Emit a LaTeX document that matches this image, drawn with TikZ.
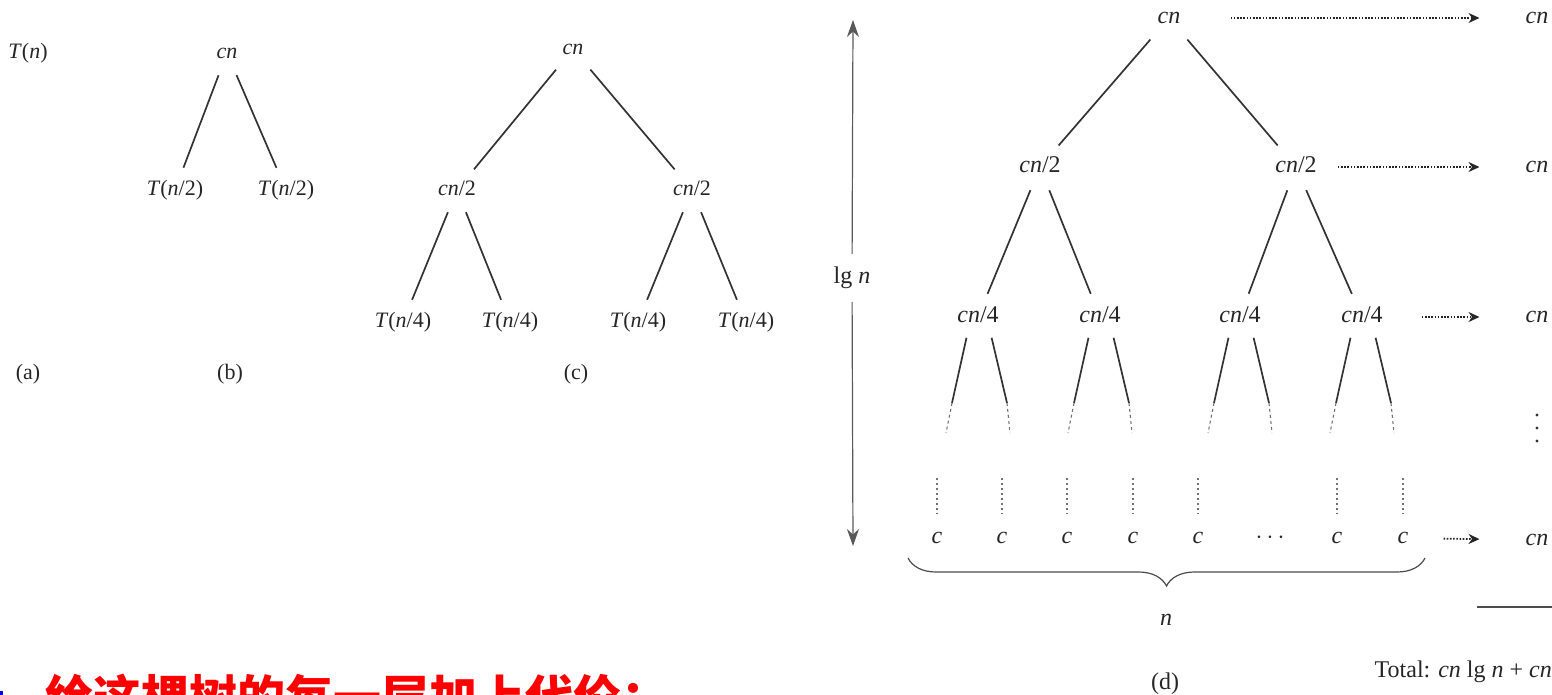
\documentclass[tikz,border=0pt]{standalone}
\usepackage{fontspec}
\setmainfont{Liberation Serif}
\newfontfamily\cjkfont{Noto Sans CJK SC}
\usetikzlibrary{decorations.pathreplacing,arrows.meta}
\begin{document}
\begin{tikzpicture}[x=1pt,y=-1pt,
 every node/.style={text=black!85},
 la/.style={inner sep=3pt,font=\fontsize{22}{26}\selectfont,text height=15pt,text depth=4.5pt},
 ld/.style={inner sep=3pt,font=\fontsize{24}{28}\selectfont,text height=16.5pt,text depth=5pt},
 tedge/.style={draw=black!80,line width=1.7pt,shorten <=10pt,shorten >=10pt},
 sedge/.style={draw=black!80,line width=1.7pt,shorten <=7pt},
 cont/.style={draw=black!55,line width=1.1pt,dash pattern=on 3pt off 3pt},
 vdot/.style={draw=black!55,line width=1.1pt,dash pattern=on 2pt off 3pt,shorten >=11pt},
 sumarrow/.style={draw=black!85,line width=1.8pt,dash pattern=on 1.6pt off 1.6pt,-{Stealth[length=11pt,width=10pt]}}
]
\useasboundingbox (0,0) rectangle (1552,695);

% (a)
\node[la] (a0) at (28,53) {\textit{T}(\textit{n})};
\node[la] (alab) at (28,374) {(a)};

% (b)
\node[la] (b0) at (227,53) {\textit{cn}};
\node[la] (b1) at (175,190) {\textit{T}(\textit{n}/2)};
\node[la] (b2) at (286,190) {\textit{T}(\textit{n}/2)};
\node[la] (blab) at (230,374) {(b)};
\draw[tedge] (b0) -- (b1);
\draw[tedge] (b0) -- (b2);

% (c)
\node[la] (c0) at (573,49) {\textit{cn}};
\node[la] (c1) at (457,190) {\textit{cn}/2};
\node[la] (c2) at (692,190) {\textit{cn}/2};
\node[la] (c3) at (403,322) {\textit{T}(\textit{n}/4)};
\node[la] (c4) at (510,322) {\textit{T}(\textit{n}/4)};
\node[la] (c5) at (638,322) {\textit{T}(\textit{n}/4)};
\node[la] (c6) at (746,322) {\textit{T}(\textit{n}/4)};
\node[la] (clab) at (576,374) {(c)};
\draw[tedge] (c0) -- (c1);
\draw[tedge] (c0) -- (c2);
\draw[tedge] (c1) -- (c3);
\draw[tedge] (c1) -- (c4);
\draw[tedge] (c2) -- (c5);
\draw[tedge] (c2) -- (c6);

% (d) tree
\node[ld] (d0) at (1169,18) {\textit{cn}};
\node[ld] (d1a) at (1040,167) {\textit{cn}/2};
\node[ld] (d1b) at (1296,167) {\textit{cn}/2};
\node[ld] (d2a) at (978,317) {\textit{cn}/4};
\node[ld] (d2b) at (1100,317) {\textit{cn}/4};
\node[ld] (d2c) at (1240,317) {\textit{cn}/4};
\node[ld] (d2d) at (1362,317) {\textit{cn}/4};
\draw[tedge] (d0) -- (d1a);
\draw[tedge] (d0) -- (d1b);
\draw[tedge] (d1a) -- (d2a);
\draw[tedge] (d1a) -- (d2b);
\draw[tedge] (d1b) -- (d2c);
\draw[tedge] (d1b) -- (d2d);

\foreach \n/\X in {d2a/978,d2b/1100,d2c/1240,d2d/1362}{
  \coordinate (\n-ls) at (\X-26,403);
  \coordinate (\n-le) at (\X-32,433);
  \coordinate (\n-rs) at (\X+29,403);
  \coordinate (\n-re) at (\X+32,433);
  \draw[sedge] ([xshift=-10pt]\n.south) -- (\n-ls);
  \draw[sedge] ([xshift=12pt]\n.south) -- (\n-rs);
  \draw[cont] (\n-ls) -- (\n-le);
  \draw[cont] (\n-rs) -- (\n-re);
}

% leaves
\foreach \i/\X in {1/937,2/1002,3/1067,4/1133,5/1198,7/1337,8/1403}{
  \node[ld] (l\i) at (\X,538) {\textit{c}};
  \coordinate (v\i) at (\X,478);
  \draw[vdot] (v\i) -- (l\i);
}
\node[ld] (l6) at (1270,538) {$\cdots$};

% height arrow
\node[ld,fill=white] (lg) at (852,278) {lg \textit{n}};
\coordinate (vt) at (853,20);
\coordinate (vb) at (853,546);
\draw[line width=1.2pt,black!65,-{Stealth[length=17pt,width=12pt]},shorten <=10pt] (lg) -- (vt);
\draw[line width=1.2pt,black!65,-{Stealth[length=17pt,width=12pt]},shorten <=10pt] (lg) -- (vb);

% brace
\coordinate (bl) at (908,558);
\coordinate (br) at (1425,558);
\draw[decorate,decoration={brace,mirror,amplitude=28pt},line width=1.2pt,black!70] (bl) -- (br);
\node[ld] (nlab) at (1166,620) {\textit{n}};
\node[ld] (dlab) at (1165,684) {(d)};

% right column
\node[ld] (r0) at (1537,18) {\textit{cn}};
\node[ld] (r1) at (1537,167) {\textit{cn}};
\node[ld] (r2) at (1537,317) {\textit{cn}};
\node[ld] (r3) at (1537,540) {\textit{cn}};
\draw[sumarrow,shorten <=47pt,shorten >=43pt] (d0) -- (r0);
\draw[sumarrow,shorten <=18pt,shorten >=43pt] (d1b) -- (r1);
\draw[sumarrow,shorten <=36pt,shorten >=43pt] (d2d) -- (r2);
\draw[sumarrow,shorten <=32pt,shorten >=43pt] (l8) -- (r3);
\foreach \yy in {415,428,441} \fill[black!80] (1537,\yy) circle (1.6pt);
\draw[line width=1.2pt,black!70] (1477,607) -- (1552,607);
\node[ld,anchor=east,inner sep=0pt] (tot) at (1552,672) {Total: \textit{cn} lg \textit{n} + \textit{cn}};

% caption (cut off at bottom, as in the reference)
\fill[blue] (-6,691) rectangle (3,700);
\node[anchor=base west,inner sep=0pt,text=red,font=\cjkfont\bfseries\fontsize{48}{50}\selectfont] (cap) at (45,715) {给这棵树的每一层加上代价：};
\end{tikzpicture}
\end{document}
